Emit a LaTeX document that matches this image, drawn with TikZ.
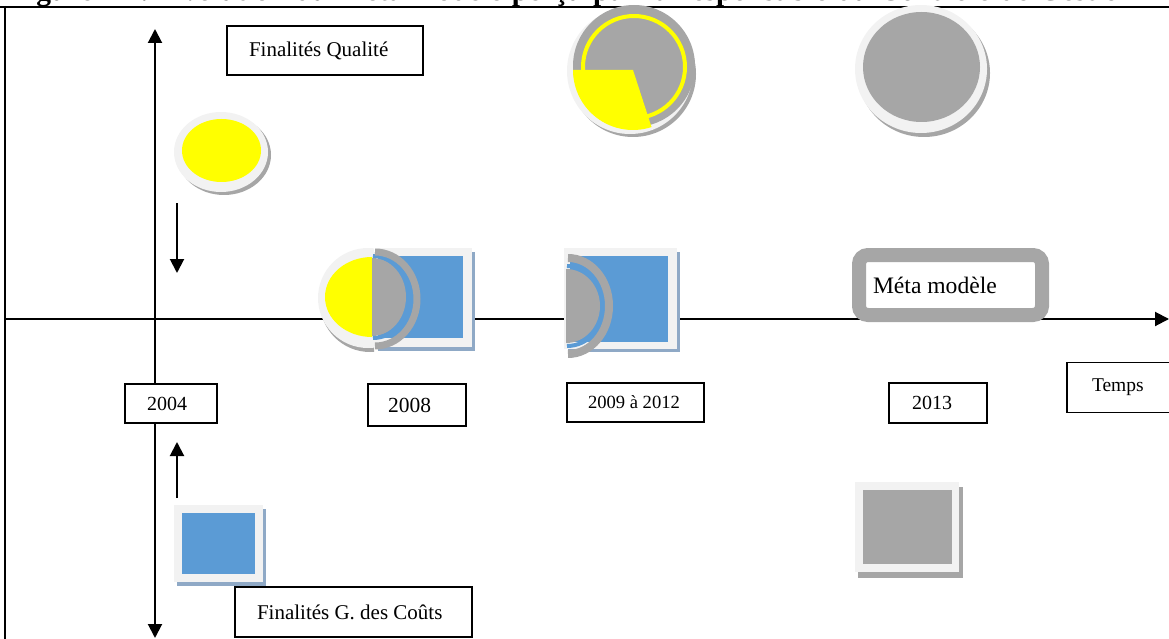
\documentclass[tikz,border=0pt]{standalone}
\usepackage{fontspec}
\setmainfont{Liberation Serif}
\usetikzlibrary{arrows.meta}
\definecolor{cgray}{HTML}{A6A6A6}
\definecolor{clight}{HTML}{F2F2F2}
\definecolor{cblue}{HTML}{5B9BD5}
\definecolor{cbshadow}{HTML}{8FA9C6}
\definecolor{cyel}{HTML}{FFFF00}
\tikzset{
  lbl/.style={draw=black, line width=1.4pt, fill=white, inner xsep=0pt, inner ysep=0pt},
  axisline/.style={line width=2pt},
  tipend/.style={-{Triangle[length=14pt,width=14pt]}},
}
\newcommand{\lbltext}[3]{\makebox[#1][l]{\hspace*{#2}#3}}
\begin{document}
\begin{tikzpicture}[x=1pt,y=-1pt]
\useasboundingbox (0,0) rectangle (1169,639);
% cut-off title
\begin{scope}
\clip (0,0) rectangle (1169,7);
\node[anchor=base west, inner sep=0pt, font=\bfseries\fontsize{29.5}{32}\selectfont] (title) at (10,0.5)
  {\makebox[1125pt][s]{Figure 11 : Evolution du Méta modèle perçu par la responsable du Contrôle de Gestion}};
\end{scope}
% frame
\coordinate (ftl) at (0,7);
\coordinate (ftr) at (1169,7);
\coordinate (flt) at (5,6);
\coordinate (flb) at (5,640);
\draw[line width=2.2pt] (ftl) -- (ftr);
\draw[line width=2pt] (flt) -- (flb);
% axes
\coordinate (hstart) at (5,319);
\coordinate (hend) at (1169,319);
\coordinate (vtop) at (155,29);
\coordinate (vbot) at (155,638);
\draw[axisline,tipend] (hstart) -- (hend);
\draw[axisline,{Triangle[length=14pt,width=14pt]}-{Triangle[length=14pt,width=14pt]}] (vtop) -- (vbot);
% small arrows
\coordinate (dA) at (177,203);
\coordinate (dB) at (177,273);
\coordinate (uA) at (177,498);
\coordinate (uB) at (177,442);
\draw[axisline,tipend] (dA) -- (dB);
\draw[axisline,tipend] (uA) -- (uB);

% yellow ellipse (2004 quality)
\fill[cgray] (224,155) ellipse[x radius=47, y radius=40];
\fill[clight] (221,152) ellipse[x radius=47, y radius=40];
\fill[cyel] (221.5,150.5) ellipse[x radius=39.5, y radius=31.5];

% blue square (2004 costs)
\fill[cbshadow] (177,509) rectangle (266,586);
\fill[clight] (174,505) rectangle (263,582);
\fill[cblue] (182,513) rectangle (255,574);

% top circle 2009-2012
\fill[cgray] (633,74) circle[radius=63];
\fill[clight] (630,71) circle[radius=63];
\fill[cgray] (634,66) circle[radius=61];
\fill[cyel] (633,70) -- +(72:60) arc[start angle=72, end angle=180, radius=60] -- cycle;
\draw[cyel, line width=4pt] (634,67) circle[radius=51];

% top circle 2013
\fill[cgray] (924,73) ellipse[x radius=66, y radius=64];
\fill[clight] (921,69) ellipse[x radius=66, y radius=64];
\fill[cgray] (921.5,67) ellipse[x radius=58.5, y radius=55];

% 2008 group
\fill[cbshadow] (378,252) rectangle (475,351);
\fill[clight] (375,248) rectangle (472,347);
\fill[cblue] (378,256) rectangle (463,338);
\begin{scope}
\clip (300,240) rectangle (374,360);
\fill[cgray] (370,302) circle[radius=50];
\fill[clight] (368,298) circle[radius=50];
\end{scope}
\fill[cyel] (372,297) ++(0,-40) arc[start angle=-90, end angle=-270, x radius=47, y radius=40] -- cycle;
\fill[cgray] (372,297) ++(0,-39) arc[start angle=-90, end angle=90, x radius=34, y radius=39] -- cycle;
\draw[cblue, line width=4pt] (373,297) ++(0,-41) arc[start angle=-90, end angle=90, x radius=37, y radius=41];
\draw[cgray, line width=7pt] (375,299) ++(0,-47) arc[start angle=-90, end angle=90, x radius=42, y radius=47];

% 2009-2012 group
\fill[cbshadow] (568,252) rectangle (680,352);
\fill[clight] (564,248) rectangle (677,349);
\fill[cblue] (570,256) rectangle (668,342);
\fill[cgray] (566,306) ++(0,-37) arc[start angle=-90, end angle=90, x radius=34, y radius=37] -- cycle;
\draw[cblue, line width=4pt] (567,306) ++(0,-40) arc[start angle=-90, end angle=90, x radius=37, y radius=40];
\draw[cgray, line width=8pt] (568,306) ++(0,-48) arc[start angle=-90, end angle=90, x radius=41, y radius=48];

% 2013 gray square
\fill[cgray] (858,487) rectangle (963,578);
\fill[clight] (855,482) rectangle (959,572);
\fill[cgray] (863,490) rectangle (952,564);

% Meta modele
\node[draw=cgray, line width=14pt, rounded corners=9pt, fill=white,
      minimum width=183pt, minimum height=60pt, inner xsep=0pt,
      font=\fontsize{23.6}{26}\selectfont] (meta) at (950.5,285) {\lbltext{183pt}{14pt}{Méta modèle}};

% label boxes
\node[lbl, minimum height=49pt, font=\fontsize{21}{24}\selectfont] (fq) at (325,50.5)
  {\lbltext{196pt}{22pt}{Finalités Qualité}};
\node[lbl, minimum height=39pt, font=\fontsize{20}{23}\selectfont] (y2004) at (171,403.5)
  {\lbltext{92pt}{22pt}{2004}};
\node[lbl, minimum height=42pt, font=\fontsize{21.5}{24}\selectfont] (y2008) at (417,405)
  {\lbltext{98pt}{20pt}{2008}};
\node[lbl, minimum height=39pt, font=\fontsize{18.6}{21}\selectfont] (y2009) at (635.5,402.5)
  {\lbltext{137pt}{21pt}{2009 à 2012}};
\node[lbl, minimum height=40pt, font=\fontsize{20}{23}\selectfont] (y2013) at (938,403)
  {\lbltext{98pt}{23pt}{2013}};
\node[lbl, minimum height=50pt, font=\fontsize{19.5}{22}\selectfont] (temps) at (1123,387.5)
  {\lbltext{112pt}{25pt}{Temps}};
\node[lbl, minimum height=50pt, font=\fontsize{21}{24}\selectfont] (fc) at (353.5,612)
  {\lbltext{237pt}{22pt}{Finalités G. des Coûts}};
\end{tikzpicture}
\end{document}
